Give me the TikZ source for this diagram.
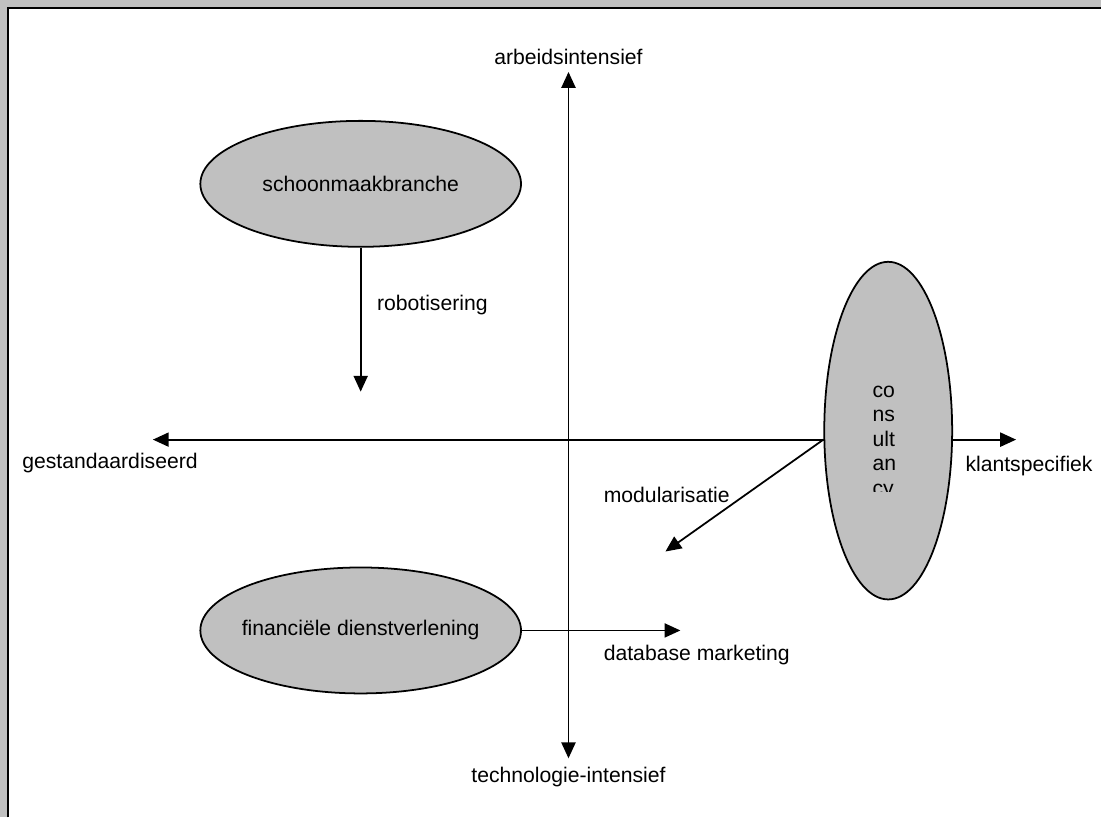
\documentclass[tikz,border=0pt]{standalone}
\usepackage{fontspec}
\setmainfont{Liberation Sans}
\usetikzlibrary{arrows.meta,positioning,shapes.geometric}
\definecolor{sectorgray}{RGB}{192,192,192}
\tikzset{
  sector/.style={draw=black, fill=sectorgray, ellipse, line width=1pt, inner sep=0pt, font=\fontsize{12}{14}\selectfont},
  lbl/.style={inner sep=0pt, font=\fontsize{12}{14}\selectfont},
  arrow/.style={-{Triangle[length=9pt,width=8pt]}, line width=1pt},
  axis/.style={{Triangle[length=9pt,width=8pt]}-{Triangle[length=9pt,width=8pt]}, line width=1pt}
}

\begin{document}
\begin{tikzpicture}[x=0.5664pt, y=-0.5664pt]
% frame
\fill[sectorgray] (0,0) rectangle (1102,818);
\fill[white] (9,9) rectangle (1102,818);
\draw[line width=1.1pt] (8,818) -- (8,8) -- (1102,8);
\useasboundingbox (0,0) rectangle (1102,818);

% axes
\node[lbl] (arb) at (569,57) {arbeidsintensief};
\node[lbl] (tech) at (569,778) {technologie-intensief};
\node[lbl, anchor=west] (gest) at (22,463) {gestandaardiseerd};
\node[lbl, anchor=west] (klant) at (966,466) {klantspecifiek};
\coordinate (atop) at (569,72);
\coordinate (abot) at (569,759);
\coordinate (aleft) at (153,440);
\coordinate (aright) at (1017,440);
\draw[axis] (abot) -- (atop);
\draw[axis] (aleft) -- (aright);

% sectors
\node[sector, minimum width=181.8pt, minimum height=71.4pt,
  label={[lbl]center:schoonmaakbranche}] (schoon) at (361,184) {};
\node[sector, minimum width=181.8pt, minimum height=71.4pt,
  label={[lbl]center:financiële dienstverlening}] (fin) at (361,631) {};
\node[sector, minimum width=72.5pt, minimum height=191.4pt] (cons) at (889,431) {};
\begin{scope}
\clip (850,380) rectangle (930,492);
\node[lbl, align=left, anchor=north west, font=\fontsize{12}{13.9}\selectfont] (consText) at (873,386) {co\\ns\\ult\\an\\cy};
\end{scope}

% shifts
\coordinate (robTip) at (361,392);
\coordinate (modTip) at (666,552);
\coordinate (dbTip) at (681,631);
\draw[arrow] (schoon.south) -- (robTip);
\draw[arrow] (cons.west |- aright) -- (modTip);
\draw[arrow] (fin.east) -- (dbTip);
\node[lbl, anchor=west] (rob) at (377,305) {robotisering};
\node[lbl, anchor=west] (mod) at (604,495) {modularisatie};
\node[lbl, anchor=west] (db) at (604,656) {database marketing};
\end{tikzpicture}
\end{document}
